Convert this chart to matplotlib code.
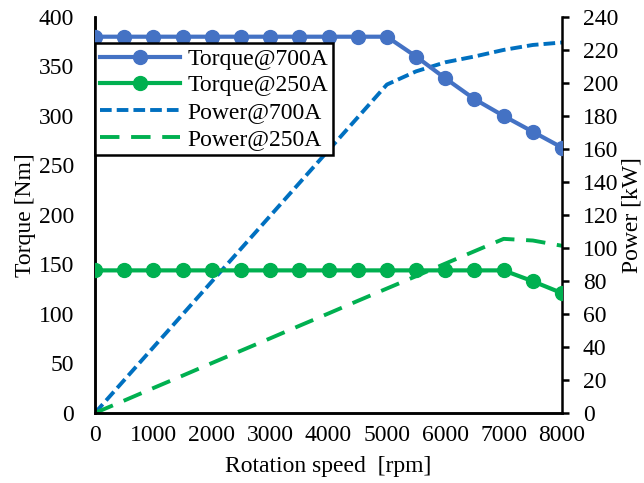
import matplotlib.pyplot as plt
import numpy as np

plt.rcParams['font.family'] = ['Liberation Serif', 'DejaVu Serif']
plt.rcParams['font.size'] = 17

# Operating points every 500 rpm
speed = np.arange(0, 8001, 500)
torque_700 = [380, 380, 380, 380, 380, 380, 380, 380, 380, 380, 380,
              360, 338, 317, 300, 284, 268]
torque_250 = [144, 144, 144, 144, 144, 144, 144, 144, 144, 144, 144,
              144, 144, 144, 144, 133, 121]
power_700 = [0, 19.9, 39.8, 59.7, 79.6, 99.5, 119.4, 139.3, 159.2, 179.1, 199.0,
             207.0, 212.5, 216.0, 220.0, 223.0, 224.5]
power_250 = [0, 7.5, 15.1, 22.6, 30.2, 37.7, 45.2, 52.8, 60.3, 67.9, 75.4,
             82.9, 90.5, 98.0, 105.5, 104.5, 101.3]

fig = plt.figure(figsize=(6.44, 4.83), dpi=100)
ax1 = fig.add_axes([0.1475, 0.145, 0.7252, 0.820])
ax2 = ax1.twinx()

l1, = ax1.plot(speed, torque_700, color='#4472C4', lw=3, marker='o', ms=10,
               label='Torque@700A', zorder=3)
l2, = ax1.plot(speed, torque_250, color='#00B050', lw=3, marker='o', ms=10,
               label='Torque@250A', zorder=3)
l3, = ax2.plot(speed, power_700, color='#0070C0', lw=2.8, ls=(0, (3, 1.3)),
               label='Power@700A')
l4, = ax2.plot(speed, power_250, color='#00B050', lw=2.8, ls=(0, (5, 3)),
               label='Power@250A')

ax1.set_xlim(0, 8000)
ax1.set_ylim(0, 400)
ax2.set_ylim(0, 240)
ax1.set_xticks(np.arange(0, 8001, 1000))
ax1.set_yticks(np.arange(0, 401, 50))
ax2.set_yticks(np.arange(0, 241, 20))

for ax in (ax1, ax2):
    ax.spines['top'].set_visible(False)
    for s in ax.spines.values():
        s.set_linewidth(1.8)
ax1.spines['right'].set_visible(False)

ax1.tick_params(axis='x', length=0, pad=9)
ax1.tick_params(axis='y', length=0, pad=15)
ax2.tick_params(axis='y', direction='out', length=5, width=1.8, pad=10)

ax1.set_xlabel('Rotation speed  [rpm]', labelpad=7)
ax1.set_ylabel('Torque [Nm]', labelpad=2)
ax2.set_ylabel('Power [kW]', labelpad=2)

# keep the torque lines drawn above the power lines
ax1.set_zorder(ax2.get_zorder() + 1)
ax1.patch.set_visible(False)

leg = ax1.legend(handles=[l1, l2, l3, l4], loc='upper left',
                 bbox_to_anchor=(0.0, 0.934), borderaxespad=0,
                 handlelength=3.4, handletextpad=0.3, labelspacing=0.22,
                 borderpad=0.22, fancybox=False, framealpha=1)
leg.get_frame().set_edgecolor('black')
leg.get_frame().set_linewidth(1.8)

fig.savefig('out.png', dpi=100)
